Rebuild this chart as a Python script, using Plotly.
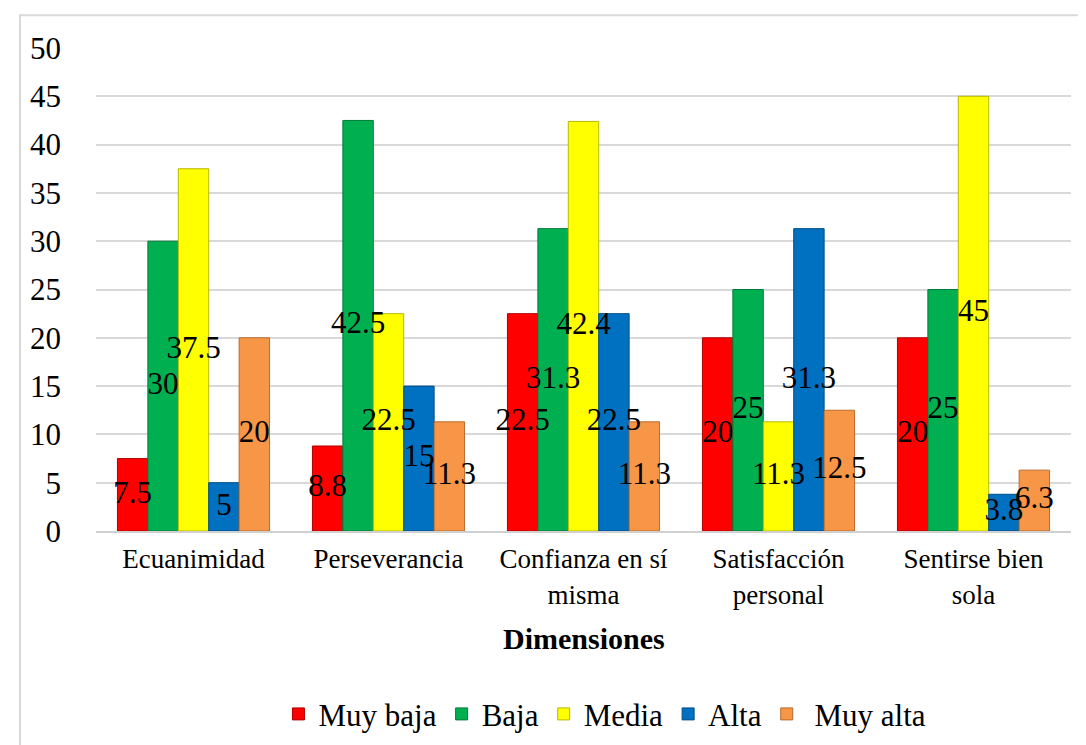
import plotly.graph_objects as go

categories = ["Ecuanimidad", "Perseverancia", "Confianza en sí<br>misma",
              "Satisfacción<br>personal", "Sentirse bien<br>sola"]
series_names = ["Muy baja", "Baja", "Media", "Alta", " Muy alta"]
muy_baja = [7.5, 8.8, 22.5, 20, 20]
baja = [30, 42.5, 31.3, 25, 25]
media = [37.5, 22.5, 42.4, 11.3, 45]
alta = [5, 15, 22.5, 31.3, 3.8]
muy_alta = [20, 11.3, 11.3, 12.5, 6.3]
y_ticks = [0, 5, 10, 15, 20, 25, 30, 35, 40, 45, 50]

values = [muy_baja, baja, media, alta, muy_alta]
colors = ["#FF0000", "#00B050", "#FFFF00", "#0070C0", "#F79646"]
edges = ["#B00000", "#007A38", "#B8B800", "#004E87", "#B86A2E"]

FONT = "Liberation Serif"
BAR_W = 0.156
n = len(series_names)
cat_pos = list(range(len(categories)))

fig = go.Figure()
for j, (name, vals, c, e) in enumerate(zip(series_names, values, colors, edges)):
    xs = [i + (j - (n - 1) / 2) * BAR_W for i in cat_pos]
    fig.add_trace(go.Bar(
        x=xs, y=vals, name=name, width=BAR_W,
        marker=dict(color=c, line=dict(color=e, width=1)),
        hoverinfo="y",
    ))
for j, vals in enumerate(values):
    xs = [i + (j - (n - 1) / 2) * BAR_W for i in cat_pos]
    fig.add_trace(go.Scatter(
        x=xs, y=[v / 2 for v in vals], mode="text",
        text=[f"{v:g}" for v in vals], textposition="middle center",
        textfont=dict(family=FONT, size=31, color="black"),
        showlegend=False, hoverinfo="skip", cliponaxis=False,
    ))

W, H = 1086, 745
L, R, T, B = 88, 23, 40, 220
pw, ph = W - L - R, H - T - B

def px_x(x):
    return (x - L) / pw

def px_y(y):
    return (H - B - y) / ph

fig.update_layout(
    width=W, height=H,
    margin=dict(l=L, r=R, t=T, b=B),
    barmode="overlay",
    plot_bgcolor="white", paper_bgcolor="white",
    font=dict(family=FONT, size=28, color="black"),
    showlegend=True,
    legend=dict(orientation="h", x=0.522, xanchor="center",
                y=px_y(709), yanchor="middle",
                font=dict(family=FONT, size=31, color="black"),
                itemwidth=30, traceorder="normal"),
    xaxis=dict(range=[-0.5, len(categories) - 0.5], tickvals=cat_pos,
               ticktext=categories, showgrid=False, zeroline=False,
               showline=True, linecolor="#d0d0d0", linewidth=2,
               ticks="", tickfont=dict(family=FONT, size=27),
               ticklabelstandoff=3),
    yaxis=dict(range=[0, 50], tickvals=y_ticks, showgrid=True,
               gridcolor="#d9d9d9", gridwidth=2, zeroline=False,
               showline=False, ticks="", ticklabelstandoff=34,
               tickfont=dict(family=FONT, size=31)),
    annotations=[dict(text="<b>Dimensiones</b>", xref="paper", yref="paper",
                      x=0.5, y=px_y(633), xanchor="center", yanchor="middle",
                      showarrow=False,
                      font=dict(family=FONT, size=30, color="black"))],
    shapes=[dict(type="rect", xref="paper", yref="paper",
                 x0=px_x(12), x1=px_x(1085), y0=px_y(744), y1=px_y(7),
                 line=dict(color="#d9d9d9", width=2), layer="below")],
)

fig.write_html("out.html")
